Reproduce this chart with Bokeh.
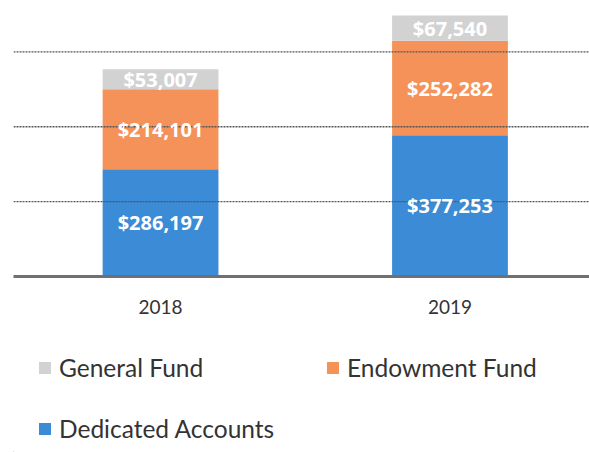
from bokeh.plotting import figure
from bokeh.models import (Range1d, FixedTicker, Legend, LegendItem, ColumnDataSource,
                          LabelSet, Span)
from bokeh.core.properties import value
from bokeh.layouts import column
from bokeh.embed import file_html
from bokeh.resources import INLINE

years = ["2018", "2019"]
dedicated = [286197, 377253]
endowment = [214101, 252282]
general = [53007, 67540]
series = ["dedicated", "endowment", "general"]
series_names = ["Dedicated Accounts", "Endowment Fund", "General Fund"]
colors = ["#3b8bd6", "#f5925a", "#d2d2d2"]
grid_values = [200000, 400000, 600000]

FONT = "Lato"
LABEL_FONT = "Open Sans"
xs = list(range(len(years)))

src = ColumnDataSource(dict(x=xs, dedicated=dedicated, endowment=endowment, general=general))

p = figure(width=589, height=335, output_backend="svg", toolbar_location=None,
           x_range=Range1d(-0.508, 1.482), y_range=Range1d(0, 737150),
           min_border_left=13, min_border_right=0, min_border_top=0, min_border_bottom=59)
p.outline_line_color = None
p.background_fill_color = "white"
p.border_fill_color = "white"
p.yaxis.visible = False
p.xgrid.visible = False
p.ygrid.visible = False

for gv in grid_values:
    p.add_layout(Span(location=gv, dimension="width", line_color="#555555",
                      line_width=1.3, line_dash="2 1"))

rs = p.vbar_stack(series, x="x", width=0.4, color=colors, source=src, line_color=None)

# labels at segment centres
cum = [0] * len(years)
lab_x, lab_y, lab_t = [], [], []
for vals in (dedicated, endowment, general):
    for i, v in enumerate(vals):
        lab_x.append(xs[i])
        lab_y.append(cum[i] + v / 2)
        lab_t.append("${:,}".format(v))
        cum[i] += v
lsrc = ColumnDataSource(dict(x=lab_x, y=lab_y, t=lab_t))
p.add_layout(LabelSet(x="x", y="y", text="t", source=lsrc, text_color="white",
                      text_font=value(LABEL_FONT), text_font_style="bold",
                      text_font_size="20px", text_align="center", text_baseline="middle"))

ax = p.xaxis[0]
ax.ticker = FixedTicker(ticks=xs)
ax.major_label_overrides = {i: y for i, y in zip(xs, years)}
ax.major_tick_line_color = None
ax.minor_tick_line_color = None
ax.axis_line_color = "#707070"
ax.axis_line_width = 3
ax.major_label_text_font = FONT
ax.major_label_text_font_size = "19px"
ax.major_label_text_color = "#333333"
ax.major_label_standoff = 17

# legend panel
q = figure(width=589, height=117, output_backend="svg", toolbar_location=None,
           x_range=Range1d(0, 589), y_range=Range1d(0, 117),
           min_border_left=0, min_border_right=0, min_border_top=0, min_border_bottom=0)
q.outline_line_color = None
q.axis.visible = False
q.grid.visible = False
q.border_fill_color = "white"

dummy = {}
for name, c in zip(series_names, colors):
    # off-screen swatch renderer used only for the legend glyph
    dummy[name] = q.vbar(x=[-1000], top=[1], width=1, fill_color=c, line_color=None)

def mk_legend(label, loc):
    lg = Legend(items=[LegendItem(label=label, renderers=[dummy[label]])], location=loc,
                border_line_color=None, background_fill_alpha=0, padding=0, margin=0,
                glyph_width=15, glyph_height=15, label_standoff=7, label_height=30,
                label_text_font=FONT, label_text_font_size="24.5px",
                label_text_color="#333333", label_text_baseline="middle")
    q.add_layout(lg, "center")

mk_legend("General Fund", (24, 70))
mk_legend("Endowment Fund", (312, 70))
mk_legend("Dedicated Accounts", (24, 9))

layout = column(p, q, spacing=0)
open("out.html", "w").write(file_html(layout, INLINE))
